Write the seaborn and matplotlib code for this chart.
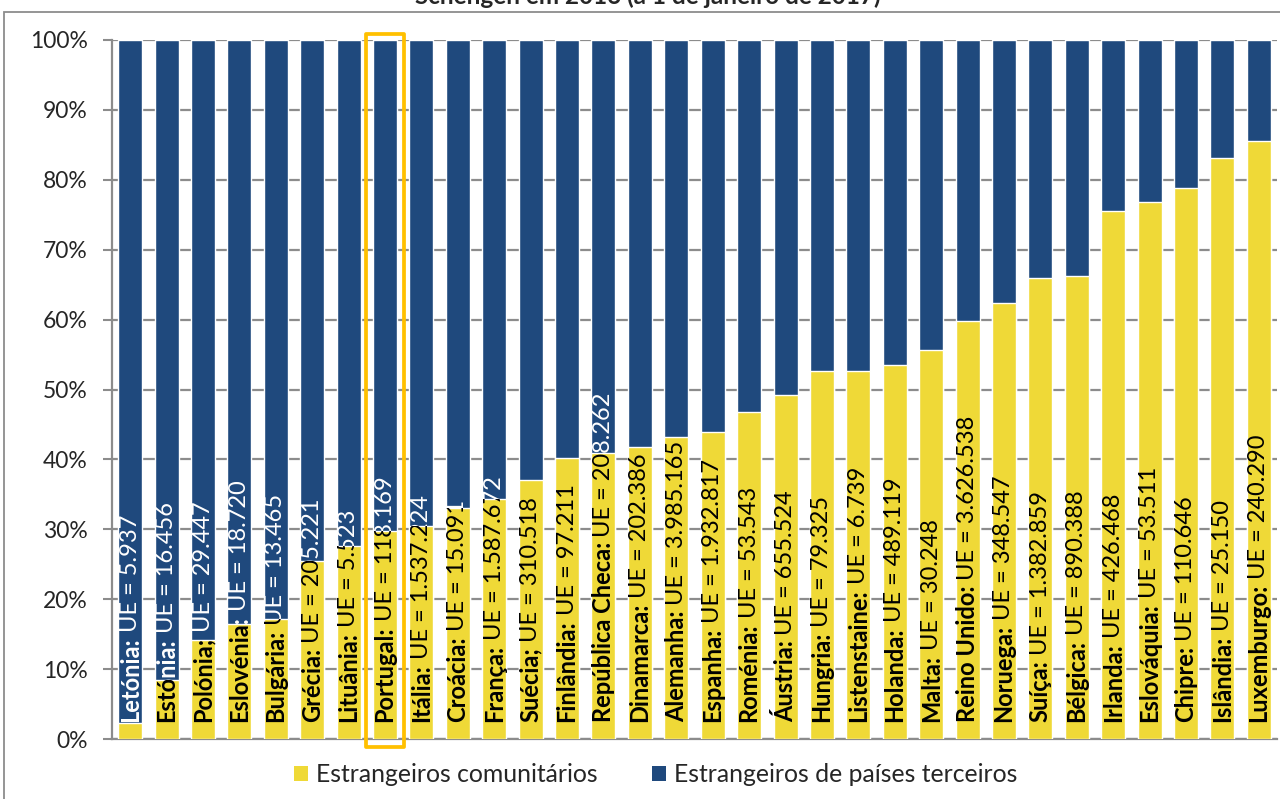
import matplotlib
matplotlib.use("Agg")
import matplotlib.pyplot as plt
import seaborn as sns
from matplotlib.patches import Rectangle, Patch
from matplotlib.transforms import ScaledTranslation

# ---- data -------------------------------------------------------------
countries = [
    "Letónia", "Estónia", "Polónia", "Eslovénia", "Bulgária", "Grécia",
    "Lituânia", "Portugal", "Itália", "Croácia", "França", "Suécia",
    "Finlândia", "República Checa", "Dinamarca", "Alemanha", "Espanha",
    "Roménia", "Áustria", "Hungria", "Listenstaine", "Holanda", "Malta",
    "Reino Unido", "Noruega", "Suíça", "Bélgica", "Irlanda", "Eslováquia",
    "Chipre", "Islândia", "Luxemburgo",
]
# punctuation printed after each country name
name_separators = [
    ":", ":", ";", ":", ":", ":", ":", ":", ":", ":", ":", ";",
    ":", ":", ":", ":", ":", ":", ":", ":", ":", ":", ":", ":",
    ":", ":", ":", ":", ":", ":", ":", ":",
]
# number of EU foreigners (absolute)
eu_foreigners = [
    5937, 16456, 29447, 18720, 13465, 205221, 5523, 118169, 1537224, 15091,
    1587672, 310518, 97211, 208262, 202386, 3985165, 1932817, 53543, 655524,
    79325, 6739, 489119, 30248, 3626538, 348547, 1382859, 890388, 426468,
    53511, 110646, 25150, 240290,
]
# share of EU foreigners in the foreign population (%)
eu_share = [
    2.3, 8.4, 14.2, 16.5, 17.1, 25.5, 27.6, 29.8, 30.5, 33.0, 34.3, 37.1,
    40.2, 40.9, 41.8, 43.2, 43.9, 46.8, 49.2, 52.6, 52.7, 53.5, 55.7, 59.8,
    62.4, 65.9, 66.2, 75.6, 76.8, 78.8, 83.1, 85.5,
]
total_share = [100.0] * len(countries)
highlighted = "Portugal"
legend_labels = ["Estrangeiros comunitários", "Estrangeiros de países terceiros"]
title = "Schengen em 2016 (a 1 de janeiro de 2017)"
y_ticks = list(range(0, 101, 10))

# ---- style ------------------------------------------------------------
YELLOW = "#EFD937"
BLUE = "#1F497D"
GRID = "#8C8C8C"
GOLD = "#FFC000"

sns.set_style("white")
plt.rcParams["font.family"] = ["Lato", "DejaVu Sans"]

W, H = 1280, 799
fig = plt.figure(figsize=(W / 100, H / 100), dpi=100)
ax = fig.add_axes([112 / W, 1 - 739 / H, (1277 - 112) / W, (739 - 40) / H])

# full-height bars = third-country share shown above the EU share
sns.barplot(x=countries, y=total_share, color=BLUE, saturation=1,
            width=0.66, errorbar=None, ax=ax, zorder=2)
sns.barplot(x=countries, y=eu_share, color=YELLOW, saturation=1,
            width=0.66, errorbar=None, ax=ax, zorder=3)

ax.set_xlim(-0.5, len(countries) - 0.5)
ax.set_ylim(0, 100)
ax.set_yticks(y_ticks)
ax.set_yticklabels([f"{v}%" for v in y_ticks])
ax.set_xticks([])
ax.set_xlabel("")
ax.set_ylabel("")
ax.yaxis.grid(True, color=GRID, lw=1.6, zorder=0)
ax.set_axisbelow(True)
for side in ("top", "right"):
    ax.spines[side].set_visible(False)
for side in ("left", "bottom"):
    ax.spines[side].set_color(GRID)
    ax.spines[side].set_linewidth(1.6)
ax.tick_params(axis="y", direction="out", length=6.5, width=1.5,
               color=GRID, pad=11, labelsize=16.5, left=True)

# ---- in-bar labels: black over the yellow part, white over the blue part
bw = 0.66
lift = ScaledTranslation(0, 12.5 / 72, fig.dpi_scale_trans)
fs = 17
for i, (name, sep, n, share) in enumerate(zip(countries, name_separators,
                                              eu_foreigners, eu_share)):
    value = "UE = " + f"{n:,}".replace(",", ".")
    black_clip = Rectangle((i - 0.5, -10), 1.0, share + 10, transform=ax.transData)
    white_clip = Rectangle((i - bw / 2, share), bw, 100 - share, transform=ax.transData)
    for color, clip in (("black", black_clip), ("white", white_clip)):
        t_name = ax.text(i, 0, name + sep, transform=ax.transData + lift,
                         rotation=90, rotation_mode="anchor", ha="left",
                         va="center", fontsize=fs, fontweight="bold",
                         color=color, zorder=5, clip_on=True)
        t_name.set_clip_path(clip)
        t_val = ax.annotate(value, xy=(0.5, 1), xycoords=t_name,
                            xytext=(0, 3.4), textcoords="offset points",
                            rotation=90, rotation_mode="anchor", ha="left",
                            va="center", fontsize=fs, color=color,
                            annotation_clip=False, zorder=5, clip_on=True)
        t_val.set_clip_path(clip)

# highlight frame around Portugal
k = countries.index(highlighted)
ax.add_patch(Rectangle((k - 0.52, -1.15), 1.04, 102.05, fill=False,
                       edgecolor=GOLD, lw=2.7, joinstyle="round",
                       clip_on=False, zorder=6))

# ---- legend, title, outer frame --------------------------------------
handles = [Patch(facecolor=YELLOW, edgecolor="none"),
           Patch(facecolor=BLUE, edgecolor="none")]
fig.legend(handles, legend_labels, loc="center", bbox_to_anchor=(656 / W, 1 - 775 / H),
           ncol=2, frameon=False, fontsize=17.8, handlelength=0.57,
           handleheight=0.57, handletextpad=0.32, columnspacing=2.2)

fig.text(648 / W, 1 - 4 / H, title, ha="center", va="baseline",
         fontsize=17.5, fontweight="bold")

fig.add_artist(Rectangle((4 / W, -0.05), 1.2, 1.05 - 12 / H,
                         transform=fig.transFigure, fill=False,
                         edgecolor=GRID, lw=1.3))

fig.savefig("out.png", dpi=100)
